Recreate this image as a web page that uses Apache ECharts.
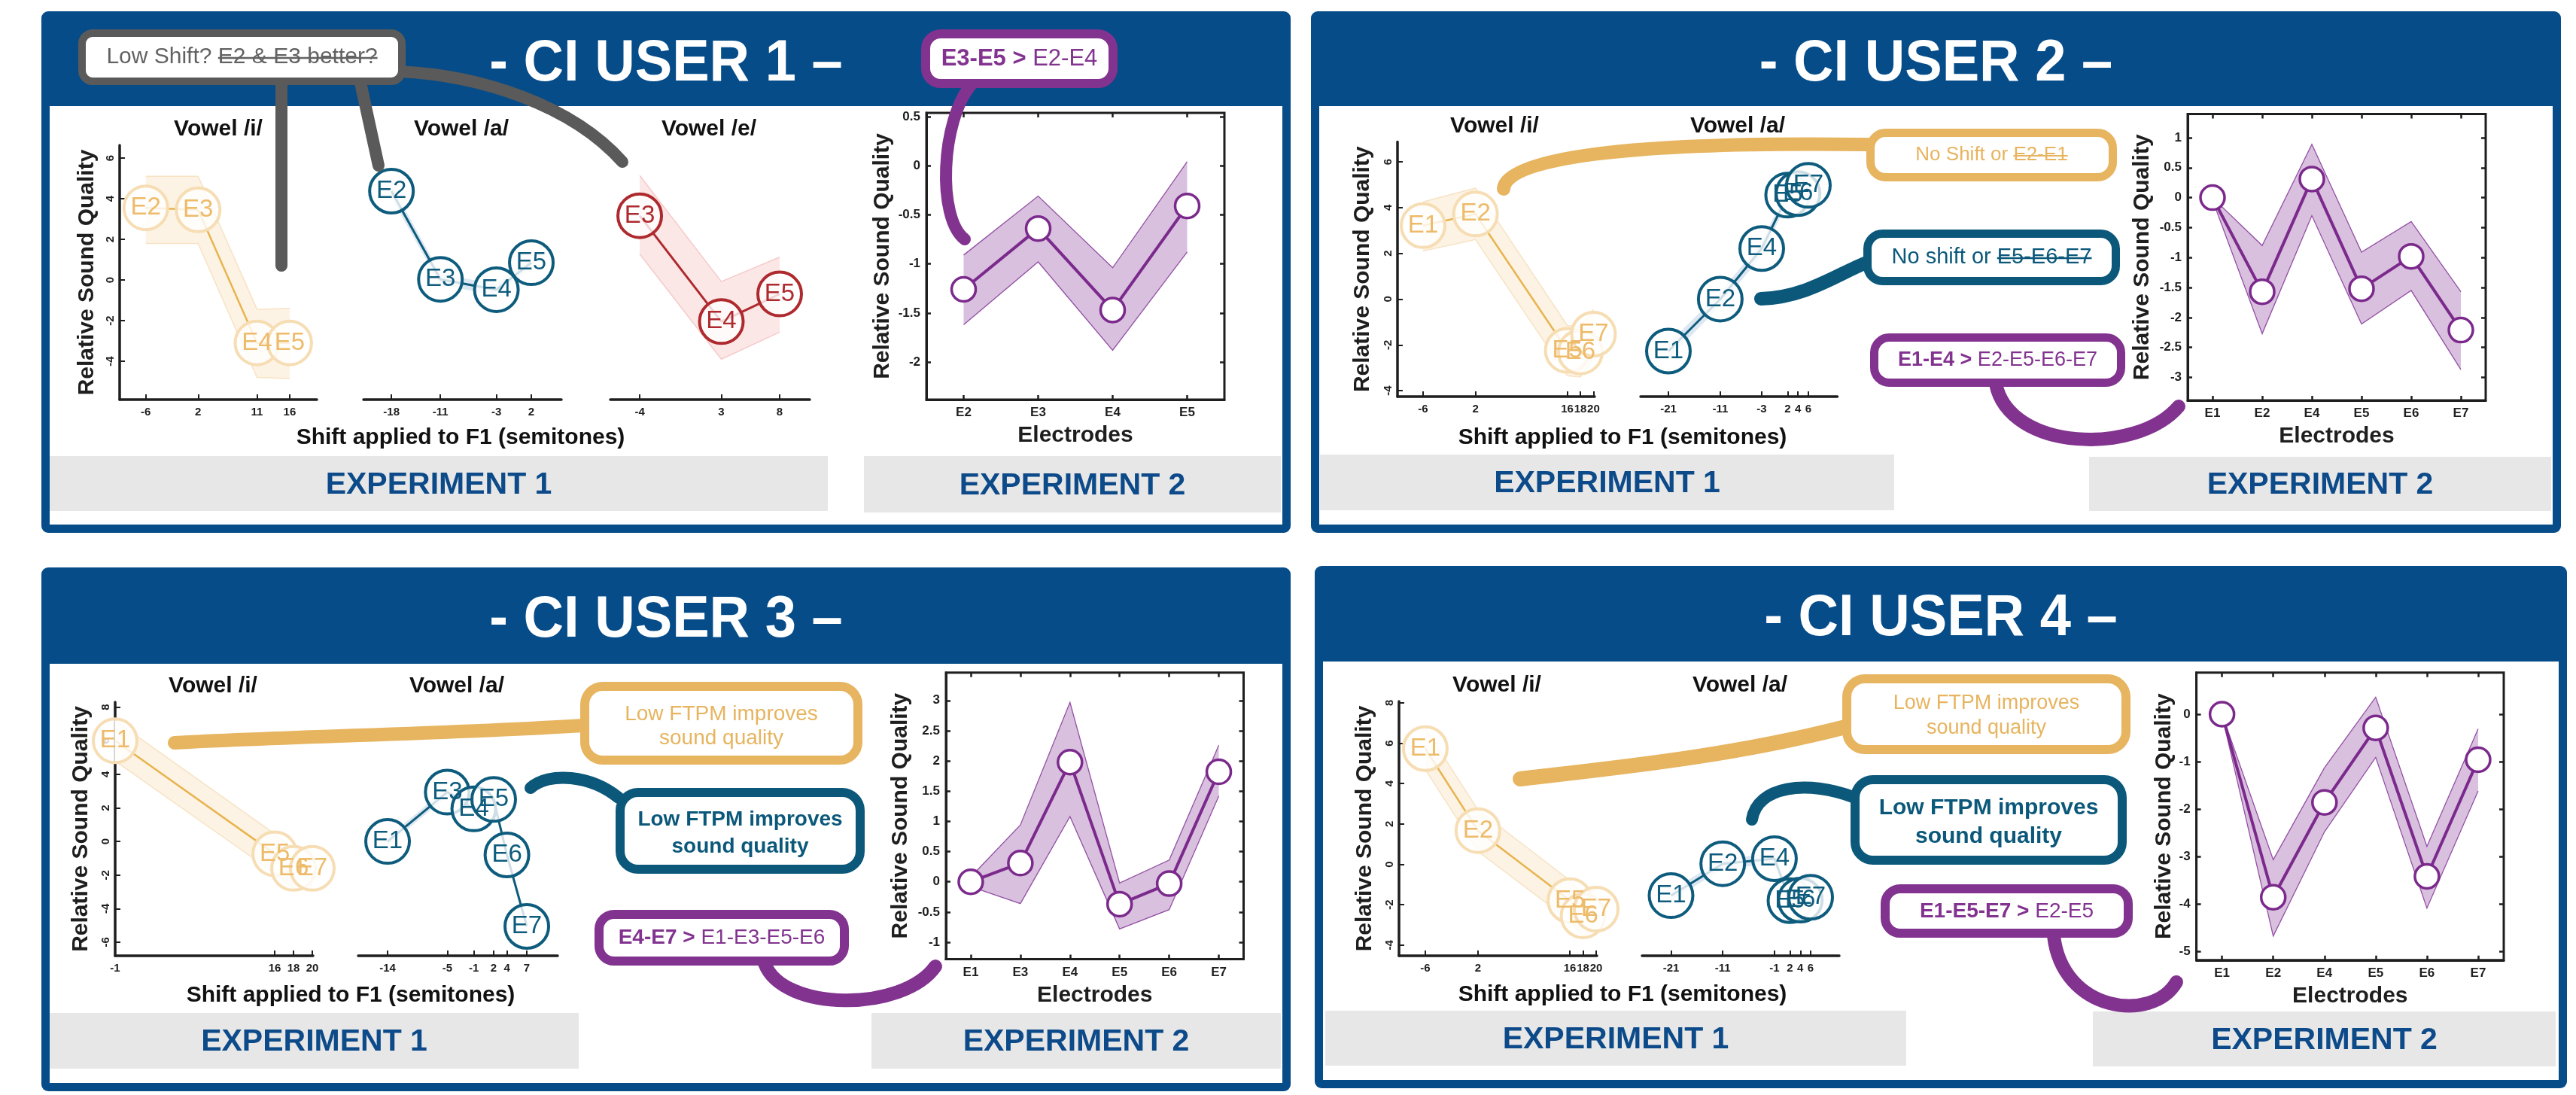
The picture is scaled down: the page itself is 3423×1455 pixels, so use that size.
<!DOCTYPE html>
<html><head><meta charset="utf-8">
<script src="https://cdn.jsdelivr.net/npm/echarts@6/dist/echarts.min.js"></script>
<style>html,body{margin:0;padding:0;background:#fff;}#c{width:3423px;height:1455px;}</style>
</head><body><div id="c"></div>
<script>
// ================= DATA =================
// ---- CI USER 1 : Experiment 1 ----
const u1_i_elec = ['E2','E3','E4','E5'];
const u1_i_shift = [-6, 2, 11, 16];
const u1_i_mean = [3.55, 3.45, -3.1, -3.1];
const u1_i_upper = [5.1, 5.1, -1.45, -1.4];
const u1_i_lower = [1.8, 1.8, -4.8, -4.85];
const u1_a_elec = ['E2','E3','E4','E5'];
const u1_a_shift = [-18, -11, -3, 2];
const u1_a_mean = [4.37, 0.03, -0.48, 0.85];
const u1_a_upper = [4.7, 0.3, -0.2, 1.1];
const u1_a_lower = [4.05, -0.25, -0.75, 0.6];
const u1_e_elec = ['E3','E4','E5'];
const u1_e_shift = [-4, 3, 8];
const u1_e_mean = [3.16, -2.05, -0.69];
const u1_e_upper = [5.14, -0.08, 1.12];
const u1_e_lower = [1.28, -3.9, -2.57];
const u1_exp1_yticks = [-4, -2, 0, 2, 4, 6];
// ---- CI USER 1 : Experiment 2 ----
const u1_x2_elec = ['E2','E3','E4','E5'];
const u1_x2_mean = [-1.26, -0.64, -1.47, -0.41];
const u1_x2_upper = [-0.91, -0.31, -1.04, 0.04];
const u1_x2_lower = [-1.62, -0.98, -1.88, -0.88];
const u1_x2_yticks = [-2, -1.5, -1, -0.5, 0, 0.5];

// ---- CI USER 2 : Experiment 1 ----
const u2_i_elec = ['E1','E2','E5','E6','E7'];
const u2_i_shift = [-6, 2, 16, 18, 20];
const u2_i_mean = [3.21, 3.72, -2.24, -2.31, -1.53];
const u2_i_upper = [4.25, 4.85, -1.15, -1.2, -0.45];
const u2_i_lower = [2.1, 2.6, -3.35, -3.4, -2.6];
const u2_a_elec = ['E1','E2','E4','E5','E6','E7'];
const u2_a_shift = [-21, -11, -3, 2, 4, 6];
const u2_a_mean = [-2.27, 0.0, 2.21, 4.54, 4.61, 4.97];
const u2_a_upper = [-1.95, 0.3, 2.5, 4.85, 4.9, 5.25];
const u2_a_lower = [-2.6, -0.3, 1.9, 4.25, 4.3, 4.7];
const u2_exp1_yticks = [-4, -2, 0, 2, 4, 6];
// ---- CI USER 2 : Experiment 2 ----
const u2_x2_elec = ['E1','E2','E4','E5','E6','E7'];
const u2_x2_mean = [0, -1.57, 0.31, -1.52, -0.98, -2.21];
const u2_x2_upper = [0, -0.8, 0.89, -0.91, -0.4, -1.57];
const u2_x2_lower = [-0.04, -2.27, -0.3, -2.11, -1.55, -2.87];
const u2_x2_yticks = [-3, -2.5, -2, -1.5, -1, -0.5, 0, 0.5, 1];

// ---- CI USER 3 : Experiment 1 ----
const u3_i_elec = ['E1','E5','E6','E7'];
const u3_i_shift = [-1, 16, 18, 20];
const u3_i_mean = [6.0, -0.74, -1.6, -1.6];
const u3_i_upper = [7.2, 0.45, -0.4, -0.4];
const u3_i_lower = [4.8, -1.9, -2.8, -2.8];
const u3_a_elec = ['E1','E3','E4','E5','E6','E7'];
const u3_a_shift = [-14, -5, -1, 2, 4, 7];
const u3_a_mean = [0.0, 2.94, 1.94, 2.5, -0.8, -5.06];
const u3_a_upper = [0.25, 3.2, 2.2, 2.75, -0.55, -4.8];
const u3_a_lower = [-0.25, 2.7, 1.7, 2.25, -1.05, -5.3];
const u3_exp1_yticks = [-6, -4, -2, 0, 2, 4, 6, 8];
// ---- CI USER 3 : Experiment 2 ----
const u3_x2_elec = ['E1','E3','E4','E5','E6','E7'];
const u3_x2_mean = [0, 0.31, 1.98, -0.37, -0.03, 1.82];
const u3_x2_upper = [0.08, 0.94, 2.97, -0.02, 0.36, 2.26];
const u3_x2_lower = [-0.08, -0.36, 1.08, -0.78, -0.46, 1.42];
const u3_x2_yticks = [-1, -0.5, 0, 0.5, 1, 1.5, 2, 2.5, 3];

// ---- CI USER 4 : Experiment 1 ----
const u4_i_elec = ['E1','E2','E5','E6','E7'];
const u4_i_shift = [-6, 2, 16, 18, 20];
const u4_i_mean = [5.73, 1.67, -1.8, -2.55, -2.22];
const u4_i_upper = [6.75, 2.7, -0.8, -1.55, -1.2];
const u4_i_lower = [4.7, 0.65, -2.8, -3.55, -3.2];
const u4_a_elec = ['E1','E2','E4','E5','E6','E7'];
const u4_a_shift = [-21, -11, -1, 2, 4, 6];
const u4_a_mean = [-1.55, 0.03, 0.28, -1.8, -1.77, -1.63];
const u4_a_upper = [-1.3, 0.28, 0.53, -1.55, -1.52, -1.38];
const u4_a_lower = [-1.8, -0.22, 0.03, -2.05, -2.02, -1.88];
const u4_exp1_yticks = [-4, -2, 0, 2, 4, 6, 8];
// ---- CI USER 4 : Experiment 2 ----
const u4_x2_elec = ['E1','E2','E4','E5','E6','E7'];
const u4_x2_mean = [0, -3.86, -1.86, -0.29, -3.42, -0.96];
const u4_x2_upper = [0, -3.07, -1.13, 0.36, -2.79, -0.31];
const u4_x2_lower = [-0.02, -4.68, -2.48, -0.91, -4.09, -1.62];
const u4_x2_yticks = [-5, -4, -3, -2, -1, 0];

// ================= STYLE / LAYOUT =================
const FONT = '"Liberation Sans", Arial, Helvetica, sans-serif';
const INK = '#1e1e1e';
const BLUE = '#054C89';
const EXPTXT = '#0C4A89';
const ORANGE = '#E7B45F';
const TEAL = '#0B587A';
const PURPLE = '#82338F';
const GREYC = '#5A5A5A';

const ST_FADED = {band:'#FDF3E4', bandEdge:'#F7E3C4', line:'#E8B44F', lw:2.5, fill:'rgba(255,255,255,0.8)', stroke:'#F6DDB3', bw:4, text:'#EDBB6A', fs:33, size:58};
const ST_TEAL = {band:'#DCE7F1', bandEdge:null, line:'#0E5C7D', lw:3, fill:'rgba(255,255,255,0.8)', stroke:'#0E5C7D', bw:4, text:'#0E5C7D', fs:33, size:58};
const ST_RED = {band:'#FCE7E7', bandEdge:'#F6CACA', line:'#AE2A2E', lw:3, fill:'rgba(255,255,255,0.8)', stroke:'#AE2A2E', bw:4, text:'#AE2A2E', fs:33, size:58};

const grids = [], xAxes = [], yAxes = [], series = [], graphics = [];

function bandSeries(xi, yi, xs, lo, hi, fill, edge, edgeW) {
  return {
    type: 'custom', xAxisIndex: xi, yAxisIndex: yi, z: 1, silent: true, clip: false, animation: false,
    data: xs.map((x, i) => [x, lo[i], hi[i]]),
    renderItem: function (params, api) {
      if (params.dataIndex !== 0) return null;
      const top = xs.map((x, i) => api.coord([x, hi[i]]));
      const bot = xs.map((x, i) => api.coord([x, lo[i]]));
      const children = [{type: 'polygon', shape: {points: top.concat(bot.slice().reverse())}, style: {fill: fill, stroke: null}}];
      if (edge) {
        children.push({type: 'polyline', shape: {points: top}, style: {stroke: edge, lineWidth: edgeW || 1.5, fill: null}});
        children.push({type: 'polyline', shape: {points: bot}, style: {stroke: edge, lineWidth: edgeW || 1.5, fill: null}});
      }
      return {type: 'group', children: children};
    }
  };
}

const axTxt = {fontSize: 17, fontWeight: 'bold', fontFamily: FONT, color: INK};
const axTxt1 = {fontSize: 15, fontWeight: 'bold', fontFamily: FONT, color: INK};
const nameTxt = {fontSize: 30, fontWeight: 'bold', fontFamily: FONT, color: INK};

function vowelPlot(box, xr, yr, xticks, yticks, showY, yGap, shift, mean, lower, upper, elec, st) {
  const g = grids.push({left: box[0], top: box[1], width: box[2], height: box[3], outerBoundsMode: 'none', containLabel: false}) - 1;
  const xi = xAxes.push({
    type: 'value', gridIndex: g, min: xr[0], max: xr[1],
    axisLine: {show: true, onZero: false, lineStyle: {color: INK, width: 3.5}},
    axisTick: {show: true, inside: true, length: 7, customValues: xticks, lineStyle: {color: INK, width: 2}},
    axisLabel: Object.assign({show: true, customValues: xticks, margin: 9, showMinLabel: true, showMaxLabel: true, hideOverlap: false}, axTxt1),
    splitLine: {show: false}
  }) - 1;
  const yi = yAxes.push({
    type: 'value', gridIndex: g, min: yr[0], max: yr[1], show: showY,
    axisLine: {show: true, onZero: false, lineStyle: {color: INK, width: 3.5}},
    axisTick: {show: true, inside: true, length: 7, customValues: yticks, lineStyle: {color: INK, width: 2}},
    axisLabel: Object.assign({show: true, customValues: yticks, rotate: 90, margin: 5, showMinLabel: true, showMaxLabel: true}, axTxt1),
    splitLine: {show: false},
    name: showY ? 'Relative Sound Quality' : '', nameLocation: 'middle', nameRotate: 90, nameGap: yGap,
    nameMoveOverlap: false, nameTextStyle: nameTxt
  }) - 1;
  series.push(bandSeries(xi, yi, shift, lower, upper, st.band, st.bandEdge, 1.5));
  series.push({
    type: 'line', xAxisIndex: xi, yAxisIndex: yi, z: 5, clip: false, animation: false, silent: true,
    data: shift.map((s, i) => ({name: elec[i], value: [s, mean[i]]})),
    symbol: 'circle', symbolSize: st.size, showAllSymbol: true,
    lineStyle: {color: st.line, width: st.lw},
    itemStyle: {color: st.fill, borderColor: st.stroke, borderWidth: st.bw},
    label: {show: true, position: 'inside', formatter: '{b}', color: st.text, fontSize: st.fs, fontFamily: FONT},
    emphasis: {disabled: true}
  });
}

function exp2Plot(box, yr, yticks, yGap, elec, mean, lower, upper) {
  const g = grids.push({left: box[0], top: box[1], width: box[2], height: box[3], show: true, borderColor: INK, borderWidth: 3, backgroundColor: 'transparent', outerBoundsMode: 'none', containLabel: false}) - 1;
  const tick = {show: true, inside: true, alignWithLabel: true, length: 6, lineStyle: {color: INK, width: 2.5}};
  const xi = xAxes.push({
    type: 'category', gridIndex: g, data: elec, boundaryGap: true,
    axisLine: {show: true, onZero: false, lineStyle: {color: INK, width: 3}},
    axisTick: tick, axisLabel: Object.assign({margin: 9, interval: 0}, axTxt),
    name: 'Electrodes', nameLocation: 'middle', nameGap: 33, nameMoveOverlap: false, nameTextStyle: nameTxt
  }) - 1;
  xAxes.push({type: 'category', gridIndex: g, position: 'top', data: elec, boundaryGap: true,
    axisLine: {show: false, onZero: false}, axisTick: tick, axisLabel: {show: false}});
  const ytick = {show: true, inside: true, length: 6, customValues: yticks, lineStyle: {color: INK, width: 2.5}};
  const yi = yAxes.push({
    type: 'value', gridIndex: g, min: yr[0], max: yr[1],
    axisLine: {show: true, onZero: false, lineStyle: {color: INK, width: 3}},
    axisTick: ytick, axisLabel: Object.assign({customValues: yticks, margin: 8, showMinLabel: true, showMaxLabel: true}, axTxt),
    splitLine: {show: false},
    name: 'Relative Sound Quality', nameLocation: 'middle', nameRotate: 90, nameGap: yGap,
    nameMoveOverlap: false, nameTextStyle: nameTxt
  }) - 1;
  yAxes.push({type: 'value', gridIndex: g, position: 'right', min: yr[0], max: yr[1],
    axisLine: {show: false, onZero: false}, axisTick: ytick, axisLabel: {show: false}, splitLine: {show: false}});
  const idx = elec.map((e, i) => i);
  series.push(bandSeries(xi, yi, idx, lower, upper, '#D9C0DF', '#9350A4', 1.3));
  series.push({
    type: 'line', xAxisIndex: xi, yAxisIndex: yi, z: 5, clip: false, animation: false, silent: true,
    data: mean, symbol: 'circle', symbolSize: 32, showAllSymbol: true,
    lineStyle: {color: '#7B2A8C', width: 4},
    itemStyle: {color: '#ffffff', borderColor: '#7B2A8C', borderWidth: 3.5},
    emphasis: {disabled: true}
  });
}

// ---- decorative layout ----
const mctx = document.createElement('canvas').getContext('2d');
function tw(t, size, bold) { mctx.font = (bold ? 'bold ' : 'normal ') + size + 'px ' + FONT; return mctx.measureText(t).width; }
function txt(t, x, y, size, color, bold, z, extra) {
  graphics.push(Object.assign({type: 'text', x: x, y: y, z: z || 30, silent: true,
    style: {text: t, fill: color, fontSize: size, fontWeight: bold ? 'bold' : 'normal', fontFamily: FONT,
      align: 'center', textAlign: 'center', verticalAlign: 'middle', textVerticalAlign: 'middle'}}, extra || {}));
}
function segText(cx, cy, segs, size, color) {
  const w = segs.map(s => tw(s.t, size, s.b));
  let x = cx - w.reduce((a, b) => a + b, 0) / 2;
  segs.forEach((s, i) => {
    graphics.push({type: 'text', x: x, y: cy, z: 62, silent: true,
      style: {text: s.t, fill: color, fontSize: size, fontWeight: s.b ? 'bold' : 'normal', fontFamily: FONT,
        align: 'left', textAlign: 'left', verticalAlign: 'middle', textVerticalAlign: 'middle'}});
    if (s.s) graphics.push({type: 'line', z: 63, silent: true, shape: {x1: x, y1: cy + 1, x2: x + w[i], y2: cy + 1}, style: {stroke: color, lineWidth: Math.max(2, size * 0.08)}});
    x += w[i];
  });
}
function panel(x0, y0, x1, y1, hb, title, ty) {
  graphics.push({type: 'rect', z: -20, silent: true, shape: {x: x0, y: y0, width: x1 - x0, height: y1 - y0, r: 9}, style: {fill: BLUE}});
  graphics.push({type: 'rect', z: -19, silent: true, shape: {x: x0 + 11, y: hb, width: x1 - x0 - 22, height: y1 - 11 - hb}, style: {fill: '#ffffff'}});
  txt(title, (x0 + x1) / 2, ty, 78, '#ffffff', true, -18, {scaleX: 0.95});
}
function expBox(x0, y0, x1, y1, label) {
  graphics.push({type: 'rect', z: -17, silent: true, shape: {x: x0, y: y0, width: x1 - x0, height: y1 - y0}, style: {fill: '#E7E7E7'}});
  txt(label, (x0 + x1) / 2, (y0 + y1) / 2 + 2, 41, EXPTXT, true, -16);
}
function callout(x0, y0, x1, y1, color, lw, r) {
  graphics.push({type: 'rect', z: 61, silent: true, shape: {x: x0 + lw / 2, y: y0 + lw / 2, width: x1 - x0 - lw, height: y1 - y0 - lw, r: r}, style: {fill: '#ffffff', stroke: color, lineWidth: lw}});
}
function bez(p, color, lw) {
  graphics.push({type: 'bezierCurve', z: 60, silent: true, shape: {x1: p[0], y1: p[1], cpx1: p[2], cpy1: p[3], cpx2: p[4], cpy2: p[5], x2: p[6], y2: p[7]}, style: {stroke: color, lineWidth: lw, lineCap: 'round', fill: null}});
}
function seg(p, color, lw) {
  graphics.push({type: 'line', z: 60, silent: true, shape: {x1: p[0], y1: p[1], x2: p[2], y2: p[3]}, style: {stroke: color, lineWidth: lw, lineCap: 'round'}});
}

// panels
panel(55, 15, 1715, 708, 141, '- CI USER 1 –', 85);
panel(1742, 15, 3403, 708, 141, '- CI USER 2 –', 85);
panel(55, 754, 1715, 1450, 882, '- CI USER 3 –', 824);
panel(1747, 752, 3411, 1446, 879, '- CI USER 4 –', 822);
expBox(66, 606, 1100, 679, 'EXPERIMENT 1');
expBox(1148, 606, 1702, 681, 'EXPERIMENT 2');
expBox(1754, 604, 2517, 678, 'EXPERIMENT 1');
expBox(2776, 607, 3390, 679, 'EXPERIMENT 2');
expBox(66, 1346, 769, 1420, 'EXPERIMENT 1');
expBox(1158, 1346, 1702, 1420, 'EXPERIMENT 2');
expBox(1761, 1343, 2533, 1416, 'EXPERIMENT 1');
expBox(2781, 1344, 3396, 1417, 'EXPERIMENT 2');

// vowel titles & shared x-axis titles
[['Vowel /i/', 290, 172], ['Vowel /a/', 613, 172], ['Vowel /e/', 942, 172],
 ['Vowel /i/', 1986, 168], ['Vowel /a/', 2309, 168],
 ['Vowel /i/', 283, 912], ['Vowel /a/', 607, 912],
 ['Vowel /i/', 1989, 911], ['Vowel /a/', 2312, 911]].forEach(v => txt(v[0], v[1], v[2], 30, '#111', true, 10));
[[612, 582], [2156, 582], [466, 1323], [2156, 1322]].forEach(p => txt('Shift applied to F1 (semitones)', p[0], p[1], 30, '#111', true, 10));

// ---- charts ----
// User 1
vowelPlot([159, 193, 262, 338], [-10, 20.15], [-5.89, 6.63], u1_i_shift, u1_exp1_yticks, true, 28, u1_i_shift, u1_i_mean, u1_i_lower, u1_i_upper, u1_i_elec, ST_FADED);
vowelPlot([483, 193, 263, 338], [-22, 6.3], [-5.89, 6.63], u1_a_shift, u1_exp1_yticks, false, 0, u1_a_shift, u1_a_mean, u1_a_lower, u1_a_upper, u1_a_elec, ST_TEAL);
vowelPlot([811, 193, 265, 338], [-6.52, 10.58], [-5.89, 6.63], u1_e_shift, u1_exp1_yticks, false, 0, u1_e_shift, u1_e_mean, u1_e_lower, u1_e_upper, u1_e_elec, ST_RED);
exp2Plot([1231, 150, 396, 381], [-2.383, 0.538], u1_x2_yticks, 43, u1_x2_elec, u1_x2_mean, u1_x2_lower, u1_x2_upper);
// User 2
vowelPlot([1857, 188.5, 262, 338.5], [-9.9, 20.18], [-4.26, 6.87], u2_i_shift, u2_exp1_yticks, true, 31, u2_i_shift, u2_i_mean, u2_i_lower, u2_i_upper, u2_i_elec, ST_FADED);
vowelPlot([2180, 188.5, 261.5, 338.5], [-26.37, 11.59], [-4.26, 6.87], u2_a_shift, u2_exp1_yticks, false, 0, u2_a_shift, u2_a_mean, u2_a_lower, u2_a_upper, u2_a_elec, ST_TEAL);
exp2Plot([2907, 151.6, 396, 380.4], [-3.383, 1.394], u2_x2_yticks, 45, u2_x2_elec, u2_x2_mean, u2_x2_lower, u2_x2_upper);
// User 3
vowelPlot([153, 933, 263, 337], [-1, 20.08], [-6.81, 8.3], u3_i_shift, u3_exp1_yticks, true, 30, u3_i_shift, u3_i_mean, u3_i_lower, u3_i_upper, u3_i_elec, ST_FADED);
vowelPlot([476, 933, 265, 337], [-18.43, 11.65], [-6.81, 8.3], u3_a_shift, u3_exp1_yticks, false, 0, u3_a_shift, u3_a_mean, u3_a_lower, u3_a_upper, u3_a_elec, ST_TEAL);
exp2Plot([1257, 893.7, 395.5, 380.8], [-1.28, 3.462], u3_x2_yticks, 45, u3_x2_elec, u3_x2_mean, u3_x2_lower, u3_x2_upper);
// User 4
vowelPlot([1859, 932, 263, 338], [-10, 20.11], [-4.53, 8.07], u4_i_shift, u4_exp1_yticks, true, 30, u4_i_shift, u4_i_mean, u4_i_lower, u4_i_upper, u4_i_elec, ST_FADED);
vowelPlot([2182, 932, 262, 338], [-26.6, 11.53], [-4.53, 8.07], u4_a_shift, u4_exp1_yticks, false, 0, u4_a_shift, u4_a_mean, u4_a_lower, u4_a_upper, u4_a_elec, ST_TEAL);
exp2Plot([2918.6, 893.7, 408.4, 382.1], [-5.187, 0.878], u4_x2_yticks, 28, u4_x2_elec, u4_x2_mean, u4_x2_lower, u4_x2_upper);

// ---- callouts ----
// User 1
seg([374, 110, 374, 353], GREYC, 16);
seg([479, 110, 503, 220], GREYC, 16);
bez([530, 95, 640, 100, 760, 140, 827, 215], GREYC, 16);
callout(104, 39, 539, 113, GREYC, 10, 14);
segText(321.5, 76, [{t: 'Low Shift? '}, {t: 'E2 & E3 better?', s: true}], 30, '#626262');
bez([1291, 112, 1250, 160, 1245, 290, 1282, 318], PURPLE, 16);
callout(1224, 39, 1485, 117, PURPLE, 12, 20);
segText(1354.5, 78, [{t: 'E3-E5', b: true}, {t: ' > ', b: true}, {t: 'E2-E4'}], 31, PURPLE);
// User 2
bez([2485, 192, 2200, 188, 2000, 205, 1998, 251], ORANGE, 18);
bez([2480, 349, 2440, 365, 2400, 395, 2340, 397], TEAL, 18);
bez([2652, 510, 2670, 600, 2840, 605, 2895, 540], PURPLE, 18);
callout(2480, 171, 2813, 241, ORANGE, 11, 20);
segText(2646.5, 206, [{t: 'No Shift or '}, {t: 'E2-E1', s: true}], 26, ORANGE);
callout(2476, 305, 2817, 379, TEAL, 11, 20);
segText(2646.5, 342, [{t: 'No shift or '}, {t: 'E5-E6-E7', s: true}], 29, TEAL);
callout(2485, 443, 2824, 514, PURPLE, 11, 20);
segText(2654.5, 479, [{t: 'E1-E4', b: true}, {t: ' > ', b: true}, {t: 'E2-E5-E6-E7'}], 27, PURPLE);
// User 3
bez([775, 964, 600, 975, 400, 978, 232, 987], ORANGE, 18);
bez([822, 1060, 785, 1030, 730, 1025, 705, 1047], TEAL, 16);
bez([1016, 1280, 1040, 1345, 1200, 1345, 1243, 1284], PURPLE, 18);
callout(771, 906, 1146, 1016, ORANGE, 12, 24);
segText(958.5, 949, [{t: 'Low FTPM improves'}], 28, ORANGE);
segText(958.5, 981, [{t: 'sound quality'}], 28, ORANGE);
callout(818, 1047, 1149, 1161, TEAL, 12, 24);
segText(983.5, 1089, [{t: 'Low FTPM improves', b: true}], 28, TEAL);
segText(983.5, 1125, [{t: 'sound quality', b: true}], 28, TEAL);
callout(790, 1209, 1128, 1283, PURPLE, 12, 20);
segText(959, 1246, [{t: 'E4-E7', b: true}, {t: ' > ', b: true}, {t: 'E1-E3-E5-E6'}], 28, PURPLE);
// User 4
bez([2452, 966, 2300, 1005, 2150, 1020, 2020, 1035], ORANGE, 20);
bez([2465, 1060, 2400, 1035, 2335, 1045, 2328, 1089], TEAL, 16);
bez([2729, 1243, 2740, 1345, 2860, 1360, 2892, 1305], PURPLE, 18);
callout(2448, 896, 2831, 1002, ORANGE, 12, 24);
segText(2639.5, 935, [{t: 'Low FTPM improves'}], 27, ORANGE);
segText(2639.5, 968, [{t: 'sound quality'}], 27, ORANGE);
callout(2459, 1030, 2826, 1149, TEAL, 12, 24);
segText(2642.5, 1074, [{t: 'Low FTPM improves', b: true}], 30, TEAL);
segText(2642.5, 1112, [{t: 'sound quality', b: true}], 30, TEAL);
callout(2499, 1175, 2834, 1246, PURPLE, 12, 20);
segText(2666.5, 1211, [{t: 'E1-E5-E7', b: true}, {t: ' > ', b: true}, {t: 'E2-E5'}], 28, PURPLE);

const chart = echarts.init(document.getElementById('c'), null, {renderer: 'canvas', width: 3423, height: 1455});
chart.setOption({
  animation: false,
  backgroundColor: '#ffffff',
  grid: grids, xAxis: xAxes, yAxis: yAxes, series: series,
  graphic: {elements: graphics}
});
</script></body></html>
